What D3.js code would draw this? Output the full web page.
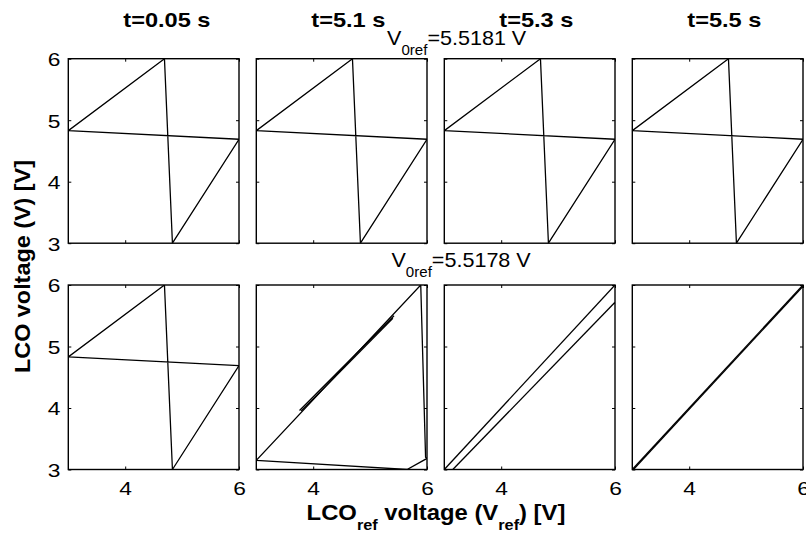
<!DOCTYPE html>
<html><head><meta charset="utf-8">
<script src="https://cdn.jsdelivr.net/npm/d3@7"></script>
<style>
html,body{margin:0;padding:0;background:#fff;}
svg{display:block;font-family:"Liberation Sans",Arial,Helvetica,sans-serif;}
</style></head>
<body><svg id="chart" width="806" height="536"></svg>
<script>
// ---------------- data ----------------
const timeLabels = ["t=0.05 s", "t=5.1 s", "t=5.3 s", "t=5.5 s"];
const v0refLabels = ["=5.5181 V", "=5.5178 V"];
const xTicks = [4, 6];
const yTicks = [3, 4, 5, 6];
const domainX = [3, 6];
const domainY = [3, 6];

// LCO limit cycle (row 1, all times; row 2, t=0.05 s)
const loopX = [3.00, 4.69, 4.83, 6.00, 3.00];
const loopY = [4.83, 6.00, 3.00, 4.69, 4.83];

// row 2, t=5.1 s
const b2MainX = [3.00, 5.89, 5.975, 6.00, 5.65, 3.00];
const b2MainY = [3.15, 6.00, 3.20, 3.18, 3.00, 3.15];
const b2SegAX = [3.76, 5.42];
const b2SegAY = [3.96, 5.50];
const b2SegBX = [3.79, 5.40];
const b2SegBY = [3.95, 5.46];

// row 2, t=5.3 s
const b3LineAX = [3.00, 6.00];
const b3LineAY = [3.00, 6.00];
const b3LineBX = [3.15, 6.00];
const b3LineBY = [3.00, 5.72];

// row 2, t=5.5 s
const b4LineAX = [3.00, 6.00];
const b4LineAY = [3.00, 6.00];
const b4LineBX = [3.02, 6.00];
const b4LineBY = [3.00, 5.98];

const rowSeries = [
  [[[loopX, loopY]], [[loopX, loopY]], [[loopX, loopY]], [[loopX, loopY]]],
  [[[loopX, loopY]],
   [[b2MainX, b2MainY], [b2SegAX, b2SegAY], [b2SegBX, b2SegBY]],
   [[b3LineAX, b3LineAY], [b3LineBX, b3LineBY]],
   [[b4LineAX, b4LineAY], [b4LineBX, b4LineBY]]]
];

// ---------------- layout ----------------
const svg = d3.select("#chart");
const left0 = 68.3, panelW = 170.7, hGap = 17.3;
const rowTop = [58.7, 285], panelH = 184.5;

function scaleX(g, k, ax) {
  g.attr("transform", `translate(${ax},0) scale(${k},1) translate(${-ax},0)`);
}

const line = d3.line();

for (let r = 0; r < 2; r++) {
  for (let c = 0; c < 4; c++) {
    const x0 = left0 + c * (panelW + hGap);
    const y0 = rowTop[r];
    const xs = d3.scaleLinear().domain(domainX).range([x0, x0 + panelW]);
    const ys = d3.scaleLinear().domain(domainY).range([y0 + panelH, y0]);
    const g = svg.append("g");

    // data lines
    const clipId = `clip${r}${c}`;
    svg.append("clipPath").attr("id", clipId).append("rect")
      .attr("x", x0).attr("y", y0).attr("width", panelW).attr("height", panelH);
    const lg = g.append("g").attr("clip-path", `url(#${clipId})`);
    rowSeries[r][c].forEach(([sx, sy]) => {
      const pts = sx.map((v, i) => [xs(v), ys(sy[i])]);
      lg.append("path").attr("d", line(pts))
        .attr("fill", "none").attr("stroke", "#000").attr("stroke-width", 1.3)
        .attr("stroke-linejoin", "round");
    });

    // axes (inward ticks, boxed)
    const tl = 3;
    const axB = d3.axisBottom(xs).tickValues(xTicks).tickSize(-tl)
      .tickFormat(r === 1 ? d3.format("d") : () => "");
    const axT = d3.axisTop(xs).tickValues(xTicks).tickSize(-tl).tickFormat(() => "");
    const axL = d3.axisLeft(ys).tickValues(yTicks).tickSize(-tl)
      .tickFormat(c === 0 ? d3.format("d") : () => "");
    const axR = d3.axisRight(ys).tickValues(yTicks).tickSize(-tl).tickFormat(() => "");

    const gb = g.append("g").attr("transform", `translate(0,${y0 + panelH})`).call(axB);
    const gt = g.append("g").attr("transform", `translate(0,${y0})`).call(axT);
    const gl = g.append("g").attr("transform", `translate(${x0},0)`).call(axL);
    const gr = g.append("g").attr("transform", `translate(${x0 + panelW},0)`).call(axR);
    [gb, gt, gl, gr].forEach(a => {
      a.select(".domain").remove();
      a.selectAll(".tick line").attr("stroke", "#000").attr("stroke-width", 1);
      a.selectAll(".tick text").attr("fill", "#000")
        .attr("font-family", '"Liberation Sans",Arial,sans-serif').attr("font-size", 19);
    });
    gb.selectAll(".tick text").attr("dy", null).attr("y", 26)
      .attr("transform", "scale(1.2,1)");
    gl.selectAll(".tick text").attr("dy", "0.36em").attr("x", -8)
      .attr("transform", "translate(-8,0) scale(1.2,1) translate(8,0)");

    g.append("rect").attr("x", x0).attr("y", y0).attr("width", panelW).attr("height", panelH)
      .attr("fill", "none").attr("stroke", "#000").attr("stroke-width", 1.4);

    // column titles
    if (r === 0) {
      const tx = x0 + 55;
      const t = svg.append("text").attr("x", tx).attr("y", 27)
        .attr("font-size", 20).attr("font-weight", "bold").text(timeLabels[c]);
      scaleX(t, 1.18, tx);
    }
  }
}

// V0ref annotations
const vPos = [[387, 45], [391.5, 267]];
v0refLabels.forEach((lab, i) => {
  const [vx, vy] = vPos[i];
  const t = svg.append("text").attr("x", vx).attr("y", vy).attr("font-size", 20);
  t.append("tspan").text("V");
  t.append("tspan").attr("font-size", 14).attr("dy", 10).text("0ref");
  t.append("tspan").attr("dy", -10).text(lab);
  const w = t.node().getBBox().width;
  scaleX(t, 140 / w, vx);
});

// x axis label
{
  const cx = 436, by = 520;
  const t = svg.append("text").attr("x", cx).attr("y", by).attr("text-anchor", "middle")
    .attr("font-size", 22).attr("font-weight", "bold");
  t.append("tspan").text("LCO");
  t.append("tspan").attr("font-size", 15).attr("dy", 10).text("ref");
  t.append("tspan").attr("dy", -10).text(" voltage (V");
  t.append("tspan").attr("font-size", 15).attr("dy", 10).text("ref");
  t.append("tspan").attr("dy", -10).text(") [V]");
  const w = t.node().getBBox().width;
  scaleX(t, 259 / w, cx);
}

// y axis label
{
  const g = svg.append("g").attr("transform", "translate(29.5,266.5) rotate(-90)");
  const t = g.append("text").attr("x", 0).attr("y", 0).attr("text-anchor", "middle")
    .attr("font-size", 22).attr("font-weight", "bold").text("LCO voltage (V) [V]");
  const w = t.node().getBBox().width;
  t.attr("transform", `scale(${213 / w},1)`);
}
</script></body></html>
